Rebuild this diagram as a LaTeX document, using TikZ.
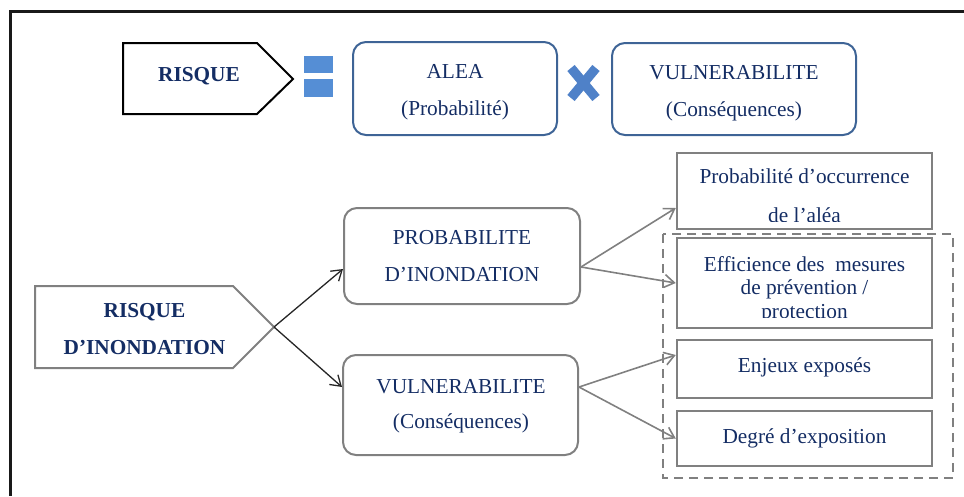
\documentclass[tikz,border=0pt]{standalone}
\usepackage{fontspec}
\setmainfont{Liberation Serif}
\usetikzlibrary{arrows.meta}
\definecolor{navy}{RGB}{20,45,100}
\definecolor{boxblue}{RGB}{62,100,150}
\definecolor{eqblue}{RGB}{85,142,213}
\definecolor{xblue}{RGB}{79,129,200}
\definecolor{boxgray}{RGB}{128,128,128}
\tikzset{
  txt/.style={text=navy, font=\fontsize{21.3}{25}\selectfont, inner sep=0pt, anchor=base},
  txtb/.style={txt},
  bld/.style={txt, font=\fontsize{21.3}{25}\selectfont\bfseries},
  bluebox/.style={draw=boxblue, line width=2pt, rounded corners=13pt, inner sep=0pt},
  graybox/.style={draw=boxgray, line width=2pt, rounded corners=13pt, inner sep=0pt},
  rectbox/.style={draw=boxgray, line width=2.5pt, inner sep=0pt},
  barrow/.style={draw=black!85, line width=1.3pt, -{Straight Barb[length=10pt,width=13pt]}},
  garrow/.style={draw=boxgray, line width=1.6pt, -{Straight Barb[length=10pt,width=13pt]}},
}
\begin{document}
\begin{tikzpicture}[x=1pt,y=-1pt]
\useasboundingbox (0,0) rectangle (964,496);
% frame
\draw[line width=3pt, black!90] (964,11) -- (10,11) -- (10,496);

% ---- top formula ----
\draw[line width=2pt, black] (123,43) -- (257,43) -- (293,79) -- (257,114) -- (123,114) -- cycle;
\node[bld] (risque) at (199,81) {RISQUE};
\fill[eqblue] (304,56) rectangle (333,73);
\fill[eqblue] (304,79) rectangle (333,97);
\node[bluebox, minimum width=204pt, minimum height=93pt] (alea) at (455,88.5) {};
\node[txt] (aleaA) at (455,78) {ALEA};
\node[txt] (aleaB) at (455,115) {(Probabilité)};
\draw[line width=9.5pt, xblue] (571,68) -- (596,98) (596,68) -- (571,98);
\node[bluebox, minimum width=244pt, minimum height=92pt] (vul) at (734,89) {};
\node[txt] (vulA) at (734,79) {VULNERABILITE};
\node[txt] (vulB) at (734,116) {(Conséquences)};

% ---- lower diagram ----
\draw[line width=2pt, boxgray] (35,286) -- (233,286) -- (274,327) -- (233,368) -- (35,368) -- cycle;
\coordinate (rtip) at (274,327);
\node[bld] (riA) at (144.5,317) {RISQUE};
\node[bld] (riB) at (144.5,354) {D’INONDATION};

\node[graybox, minimum width=236pt, minimum height=96pt] (prob) at (462,256) {};
\node[txtb] (probA) at (462,244) {PROBABILITE};
\node[txtb] (probB) at (462,281) {D’INONDATION};
\node[graybox, minimum width=235pt, minimum height=100pt] (vul2) at (460.5,405) {};
\node[txt] (vul2A) at (461,393) {VULNERABILITE};
\node[txt] (vul2B) at (461,428) {(Conséquences)};

\draw[barrow] (rtip) -- ([yshift=-13pt]prob.west);
\draw[barrow] (rtip) -- ([yshift=18pt]vul2.west);

% right boxes
\node[rectbox, minimum width=255pt, minimum height=76pt] (b1) at (804.5,191) {};
\node[rectbox, minimum width=255pt, minimum height=90pt] (b2) at (804.5,283) {};
\node[rectbox, minimum width=255pt, minimum height=58pt] (b3) at (804.5,369) {};
\node[rectbox, minimum width=255pt, minimum height=55pt] (b4) at (804.5,438.5) {};
\begin{scope}
\clip (679,155) rectangle (930,221);
\node[txtb] (b1A) at (804.5,183) {Probabilité d’occurrence};
\node[txtb] (b1B) at (804.5,222) {de l’aléa};
\end{scope}
\begin{scope}
\clip (679,240) rectangle (930,317);
\node[txtb] (b2A) at (804.5,271) {Efficience des\ \ mesures};
\node[txtb] (b2B) at (804.5,294) {de prévention /};
\node[txtb] (b2C) at (804.5,318) {protection};
\end{scope}
\node[txtb] (b3A) at (804.5,372) {Enjeux exposés};
\node[txtb] (b4A) at (804.5,443) {Degré d’exposition};

\draw[draw=boxgray, line width=2pt, dash pattern=on 9pt off 6pt] (663,234) rectangle (953,478);

\draw[garrow] ([yshift=-11pt]prob.east) -- ([yshift=-17pt]b1.west);
\draw[garrow] ([yshift=-11pt]prob.east) -- (b2.west);
\draw[garrow] ([yshift=18pt]vul2.east) -- ([yshift=14pt]b3.west);
\draw[garrow] ([yshift=18pt]vul2.east) -- (b4.west);
\end{tikzpicture}
\end{document}
